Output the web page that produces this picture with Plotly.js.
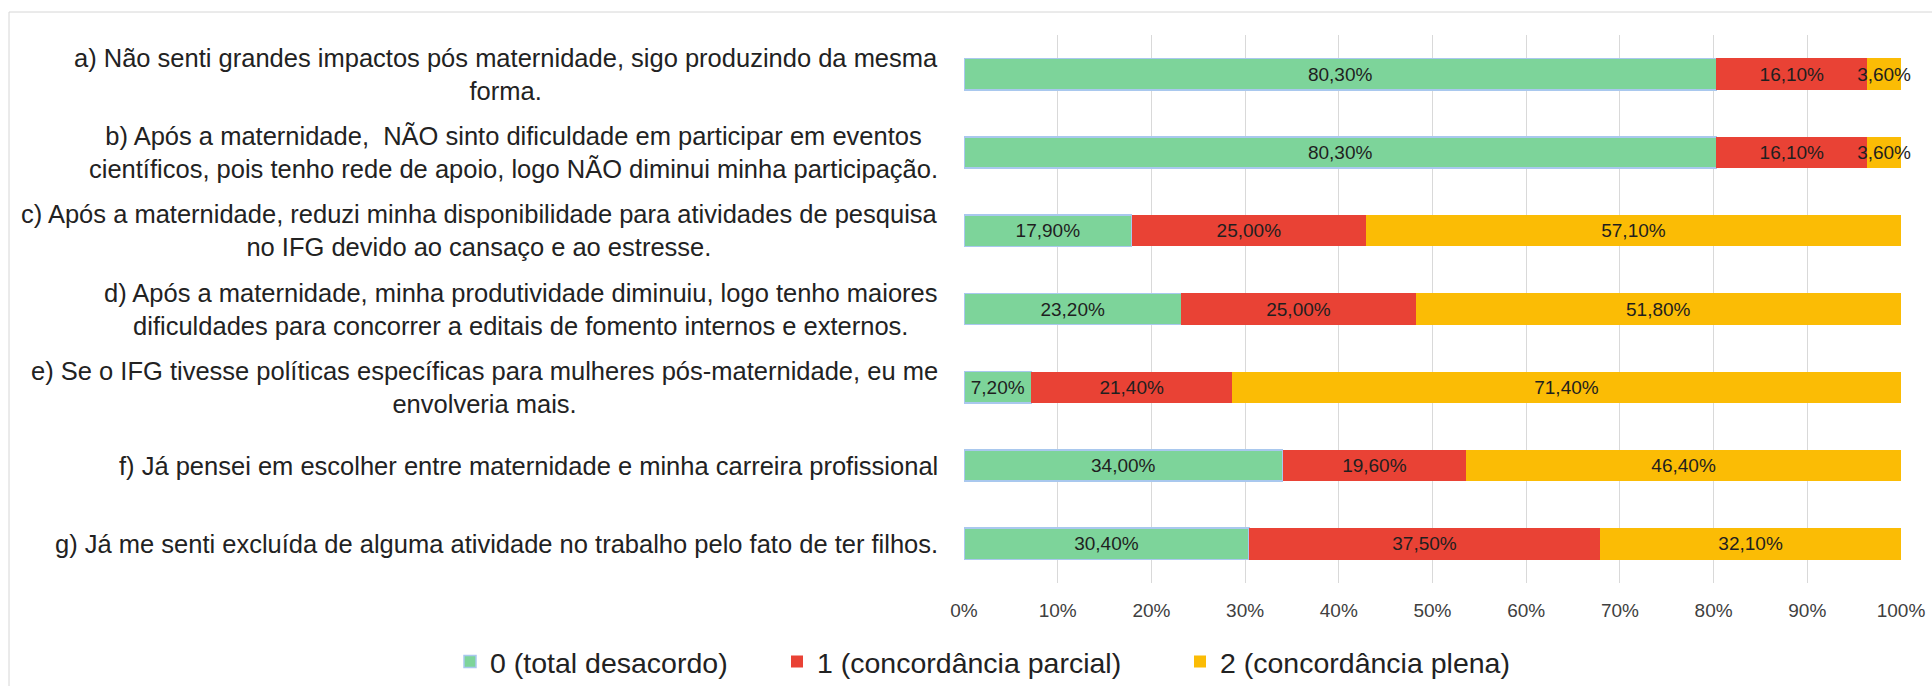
<!DOCTYPE html>
<html>
<head>
<meta charset="utf-8">
<script src="https://cdn.plot.ly/plotly-3.0.1.min.js"></script>
<style>
  html, body { margin: 0; padding: 0; background: #ffffff; }
  #chart { width: 1932px; height: 686px; }
</style>
</head>
<body>
<div id="chart"></div>
<script>
const categories = [
  "a) Não senti grandes impactos pós maternidade, sigo produzindo da mesma<br>forma.",
  "b) Após a maternidade,  NÃO sinto dificuldade em participar em eventos<br>científicos, pois tenho rede de apoio, logo NÃO diminui minha participação.",
  "c) Após a maternidade, reduzi minha disponibilidade para atividades de pesquisa<br>no IFG devido ao cansaço e ao estresse.",
  "d) Após a maternidade, minha produtividade diminuiu, logo tenho maiores<br>dificuldades para concorrer a editais de fomento internos e externos.",
  "e) Se o IFG tivesse políticas específicas para mulheres pós-maternidade, eu me<br>envolveria mais.",
  "f) Já pensei em escolher entre maternidade e minha carreira profissional",
  "g) Já me senti excluída de alguma atividade no trabalho pelo fato de ter filhos."
];
const totalDesacordo = [80.3, 80.3, 17.9, 23.2, 7.2, 34.0, 30.4];
const concordanciaParcial = [16.1, 16.1, 25.0, 25.0, 21.4, 19.6, 37.5];
const concordanciaPlena = [3.6, 3.6, 57.1, 51.8, 71.4, 46.4, 32.1];
const seriesNames = ["0 (total desacordo)", "1 (concordância parcial)", "2 (concordância plena)"];
const tickValues = [0, 10, 20, 30, 40, 50, 60, 70, 80, 90, 100];
const tickLabels = ["0%", "10%", "20%", "30%", "40%", "50%", "60%", "70%", "80%", "90%", "100%"];

const FONT = "Liberation Sans, Arial, sans-serif";
const colors = ["#7dd49a", "#e94235", "#fbbc05"];
const lineColors = ["#a9c8ee", "#e94235", "#fbbc05"];
const lineWidths = [1.5, 0, 0];
const legendIds = ["legend", "legend2", "legend3"];
const seriesValues = [totalDesacordo, concordanciaParcial, concordanciaPlena];

const traces = seriesValues.map((vals, i) => ({
  type: "bar",
  orientation: "h",
  name: seriesNames[i],
  legend: legendIds[i],
  x: vals,
  y: categories,
  marker: { color: colors[i], line: { color: lineColors[i], width: lineWidths[i] } },
  texttemplate: "%{x:.2f}%",
  textposition: "inside",
  insidetextanchor: "middle",
  constraintext: "none",
  cliponaxis: false,
  textfont: { family: FONT, size: 19, color: "#1f1f1f" },
  hoverinfo: "skip"
}));

const L = 964, R = 31, T = 35, B = 103;
const W = 1932, H = 686;
const plotW = W - L - R, plotH = H - T - B;

const annotations = categories.map(c => ({
  xref: "paper", yref: "y",
  x: 0, y: c,
  xanchor: "right", yanchor: "middle",
  xshift: -24,
  align: "center",
  text: c,
  showarrow: false,
  font: { family: FONT, size: 25.5, color: "#222222" }
}));

function legendAt(px) {
  return {
    orientation: "h",
    xref: "container", yref: "container",
    x: px / W, xanchor: "left",
    y: 1 - 662 / H, yanchor: "middle",
    font: { family: FONT, size: 28.5, color: "#222222" },
    bgcolor: "rgba(0,0,0,0)"
  };
}

const layout = {
  width: W, height: H,
  margin: { l: L, r: R, t: T, b: B, pad: 0 },
  barmode: "stack",
  bargap: 0.6,
  separators: ",.",
  paper_bgcolor: "#ffffff",
  plot_bgcolor: "#ffffff",
  font: { family: FONT, color: "#222222" },
  showlegend: true,
  legend: legendAt(450),
  legend2: legendAt(777),
  legend3: legendAt(1180),
  xaxis: {
    range: [0, 100],
    tickvals: tickValues,
    ticktext: tickLabels,
    showgrid: true,
    gridcolor: "#d9d9d9",
    gridwidth: 1,
    zeroline: false,
    showline: false,
    ticks: "",
    tickfont: { family: FONT, size: 19, color: "#404040" },
    ticklabelstandoff: 14,
    fixedrange: true
  },
  yaxis: {
    type: "category",
    autorange: "reversed",
    showticklabels: false,
    showgrid: false,
    zeroline: false,
    showline: false,
    ticks: "",
    fixedrange: true
  },
  annotations: annotations,
  shapes: [{
    type: "rect", xref: "paper", yref: "paper", layer: "below",
    x0: (9 - L) / plotW, x1: 1.2,
    y0: -0.5, y1: (H - B - 12) / plotH,
    line: { color: "#d6d6d6", width: 1 },
    fillcolor: "rgba(0,0,0,0)"
  }]
};

Plotly.newPlot("chart", traces, layout, { displayModeBar: false, staticPlot: true });
</script>
</body>
</html>
